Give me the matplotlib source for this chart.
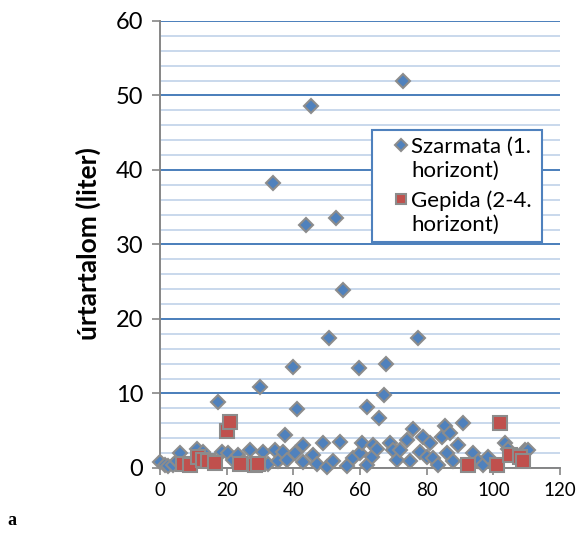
import matplotlib
matplotlib.use('Agg')
import numpy as np
import matplotlib.pyplot as plt
from matplotlib.ticker import MultipleLocator
from matplotlib.lines import Line2D
from matplotlib.legend_handler import HandlerLine2D

plt.rcParams['font.family'] = ['Lato', 'DejaVu Sans']

# Szarmata (1. horizont)
szarmata_x = [0.0, 1.5, 2.5, 4.0, 5.0, 6.0, 11.0, 13.0, 17.5, 18.5, 20.5, 22.0, 23.5, 25.0,
              27.0, 30.0, 31.0, 32.5, 34.0, 34.5, 35.5, 37.0, 37.5, 38.0, 39.8, 40.5, 41.0,
              43.0, 43.0, 43.8, 45.3, 46.0, 47.0, 49.0, 50.0, 50.8, 52.0, 52.8, 54.0, 55.0,
              56.0, 58.0, 59.8, 60.0, 60.5, 62.0, 62.0, 63.5, 64.0, 65.0, 65.7, 67.3, 67.8,
              69.0, 70.0, 71.0, 72.0, 73.0, 74.0, 75.0, 76.0, 77.4, 78.0, 79.0, 80.0, 81.0,
              82.0, 83.5, 84.5, 85.5, 86.0, 87.0, 88.0, 89.5, 91.0, 94.0, 95.5, 97.0, 98.5,
              103.5, 104.5, 109.5, 110.5]
szarmata_y = [0.8, 0.4, 0.2, 0.4, 0.9, 2.0, 2.6, 2.2, 8.8, 2.2, 2.0, 1.1, 1.7, 0.8,
              2.4, 10.9, 2.2, 0.6, 38.3, 2.4, 0.9, 2.2, 4.4, 1.1, 13.6, 2.0, 7.9,
              3.1, 0.8, 32.6, 48.6, 1.7, 0.6, 3.4, 0.1, 17.5, 0.9, 33.6, 3.5, 23.9,
              0.2, 1.3, 13.4, 2.0, 3.3, 8.2, 0.4, 1.5, 3.1, 2.6, 6.7, 9.8, 13.9,
              3.3, 2.4, 1.1, 2.4, 52.0, 3.8, 0.9, 5.2, 17.5, 2.2, 4.2, 1.5, 3.3,
              1.3, 0.4, 4.2, 5.6, 2.0, 4.7, 0.9, 3.1, 6.0, 2.0, 0.9, 0.4, 1.5,
              3.3, 2.6, 2.4, 2.4]

# Gepida (2-4. horizont)
gepida_x = [7.0, 9.0, 11.5, 13.0, 14.5, 16.5, 20.0, 21.0, 24.0, 28.5, 29.5,
            92.5, 101.0, 102.0, 105.0, 108.0, 109.0]
gepida_y = [0.6, 0.4, 1.5, 1.1, 0.9, 0.7, 4.9, 6.2, 0.5, 0.4, 0.6,
            0.4, 0.4, 6.0, 1.7, 1.5, 0.9]


class FirstLineHandler(HandlerLine2D):
    # put the legend marker next to the first line of a two-line label
    def create_artists(self, legend, orig_handle, xdescent, ydescent, width, height,
                       fontsize, trans):
        artists = super().create_artists(legend, orig_handle, xdescent, ydescent,
                                         width, height, fontsize, trans)
        for a in artists:
            a.set_ydata(np.asarray(a.get_ydata()) + 0.62 * fontsize)
        return artists


fig = plt.figure(figsize=(5.79, 5.36), dpi=100)
ax = fig.add_axes([0.2763, 0.1269, 0.6909, 0.834])

ax.plot(szarmata_x, szarmata_y, 'D', ms=7.5, mfc='#4F81BD', mec='#8C8C8C', mew=1.5,
        clip_on=False, zorder=3, label='Szarmata (1.\nhorizont)')
ax.plot(gepida_x, gepida_y, 's', ms=9.5, mfc='#C0504D', mec='#8C8C8C', mew=1.5,
        clip_on=False, zorder=4, label='Gepida (2-4.\nhorizont)')

ax.set_xlim(0, 120)
ax.set_ylim(0, 60)
ax.xaxis.set_major_locator(MultipleLocator(20))
ax.yaxis.set_major_locator(MultipleLocator(10))
ax.yaxis.set_minor_locator(MultipleLocator(2))

ax.grid(which='minor', axis='y', color='#C5D5EA', lw=1.3, zorder=0)
ax.grid(which='major', axis='y', color='#4A7EBB', lw=1.4, zorder=1)
ax.grid(which='major', axis='x', visible=False)
ax.set_axisbelow(True)

for s in ['top', 'right']:
    ax.spines[s].set_visible(False)
for s in ['left', 'bottom']:
    ax.spines[s].set_color('#868686')
    ax.spines[s].set_linewidth(1.4)
    ax.spines[s].set_zorder(2)

ax.tick_params(which='minor', length=0)
ax.tick_params(axis='y', which='major', length=6, width=1.2, color='#868686',
               labelsize=17, pad=6)
ax.tick_params(axis='x', which='major', length=5, width=1.2, color='#868686',
               labelsize=13.5, pad=5)

fig.text(0.152, 0.545, 'úrtartalom (liter)', rotation=90, ha='center', va='center',
         fontsize=19, fontweight='bold')
fig.text(0.021, 0.028, 'a', ha='center', va='center', fontsize=13,
         fontweight='bold', family='Liberation Serif')

leg = ax.legend(loc='upper left', bbox_to_anchor=(0.6425, 0.55, 0.2935, 0.2075),
                bbox_transform=fig.transFigure, mode='expand', fancybox=False,
                framealpha=1, edgecolor='#4F81BD', fontsize=16, markerscale=0.75,
                handlelength=2.0, handletextpad=-0.55, borderpad=0.3,
                labelspacing=0.45, borderaxespad=0,
                handler_map={Line2D: FirstLineHandler()})
leg.get_frame().set_linewidth(1.5)
for t in leg.get_texts():
    t.set_linespacing(1.25)

fig.savefig('out.png', dpi=100)
